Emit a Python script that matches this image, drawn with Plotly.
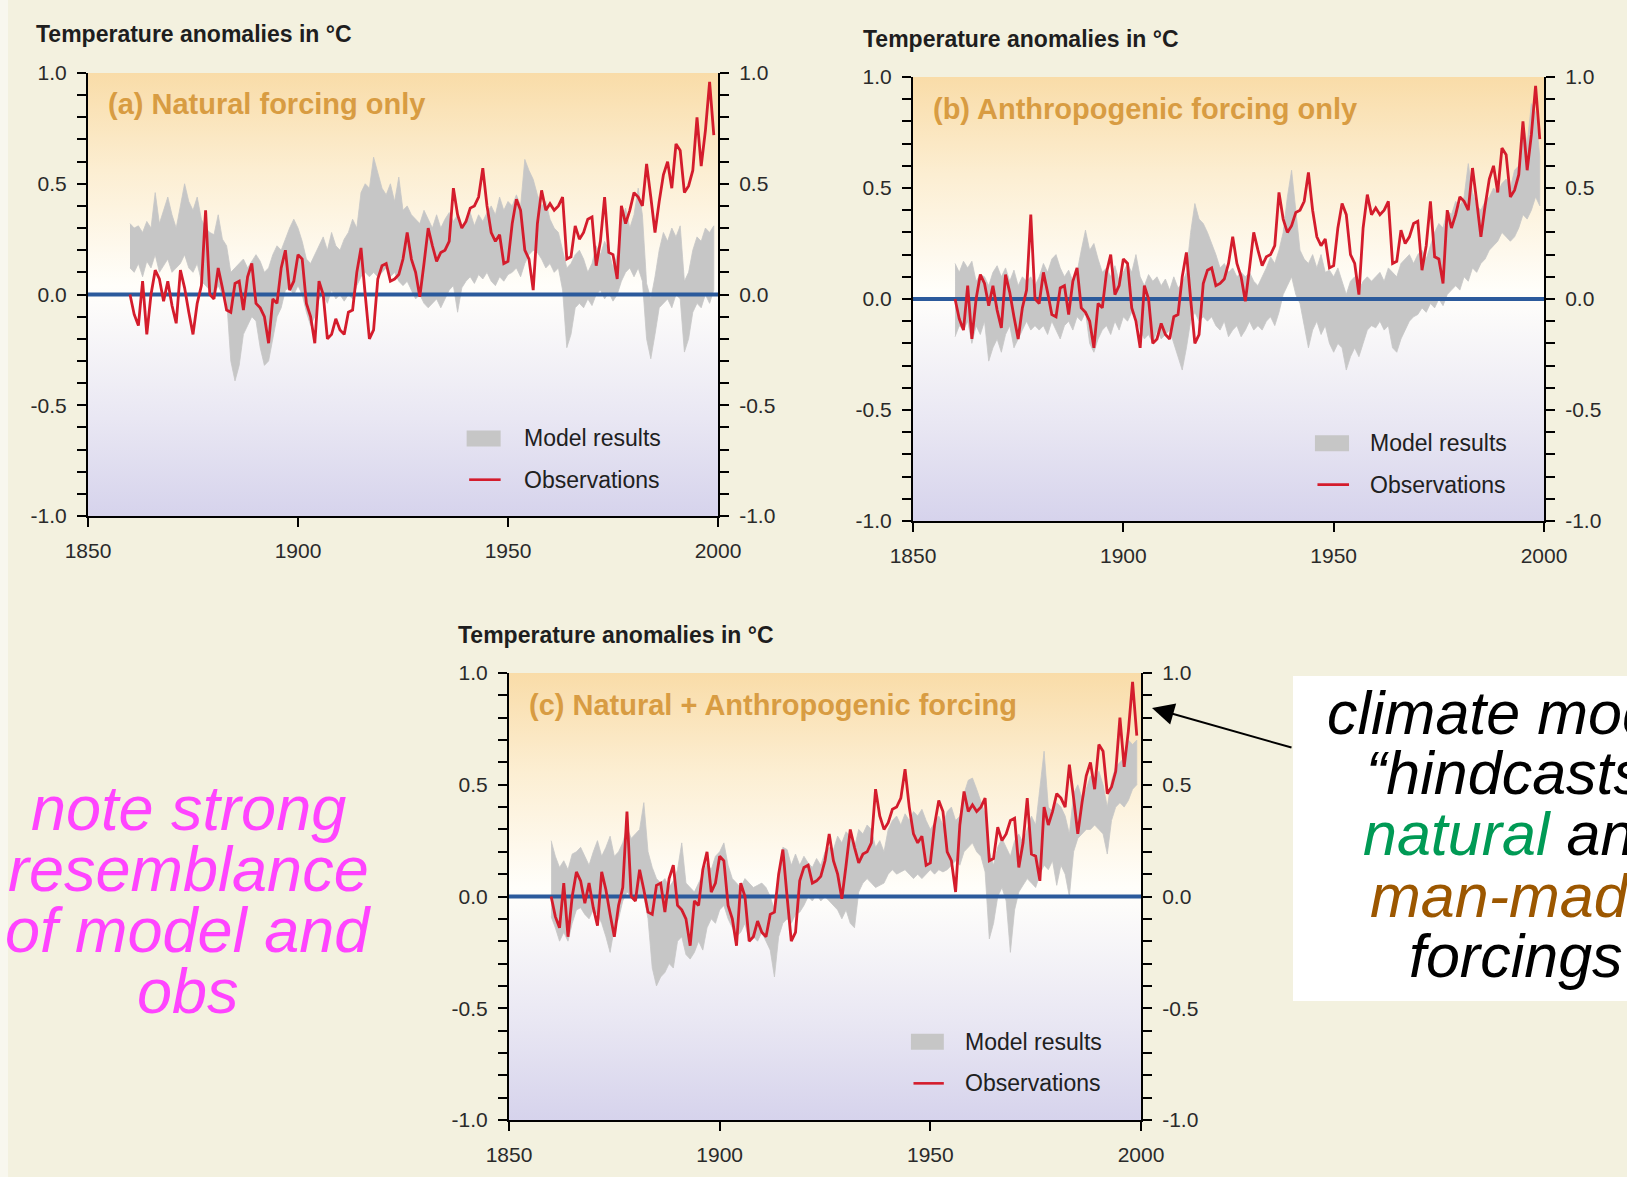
import plotly.graph_objects as go

W, H = 1627, 1177

# ---------------- data ----------------
YEARS = list(range(1860, 2000))

OBSERVATIONS = [
    0.00, -0.09, -0.14, 0.06, -0.18, 0.00, 0.11, 0.07, -0.03, 0.06,
    -0.05, -0.13, 0.11, 0.03, -0.08, -0.18, -0.04, 0.04, 0.38, 0.00,
    -0.02, 0.12, 0.03, -0.07, -0.08, 0.05, 0.06, -0.07, 0.08, 0.14,
    -0.04, -0.06, -0.10, -0.22, -0.02, -0.04, 0.12, 0.20, 0.02, 0.06,
    0.18, 0.16, -0.04, -0.10, -0.22, 0.06, 0.00, -0.20, -0.18, -0.11,
    -0.16, -0.18, -0.08, -0.07, 0.10, 0.21, 0.00, -0.20, -0.16, 0.07,
    0.13, 0.14, 0.06, 0.07, 0.09, 0.16, 0.28, 0.16, 0.10, -0.01,
    0.14, 0.30, 0.22, 0.15, 0.19, 0.20, 0.24, 0.48, 0.36, 0.30,
    0.33, 0.39, 0.40, 0.44, 0.57, 0.40, 0.28, 0.24, 0.27, 0.14,
    0.15, 0.32, 0.43, 0.38, 0.20, 0.16, 0.02, 0.32, 0.47, 0.38,
    0.41, 0.38, 0.40, 0.44, 0.16, 0.17, 0.31, 0.25, 0.28, 0.34,
    0.35, 0.13, 0.24, 0.44, 0.19, 0.18, 0.07, 0.40, 0.32, 0.38,
    0.46, 0.44, 0.40, 0.59, 0.44, 0.28, 0.42, 0.54, 0.60, 0.48,
    0.68, 0.65, 0.46, 0.49, 0.56, 0.80, 0.58, 0.74, 0.96, 0.72,
]

# (a) natural forcing only
UPPER_A = [
    0.32, 0.30, 0.31, 0.28, 0.33, 0.30, 0.46, 0.32, 0.38, 0.44,
    0.36, 0.30, 0.40, 0.50, 0.42, 0.38, 0.44, 0.34, 0.30, 0.28,
    0.27, 0.36, 0.25, 0.22, 0.10, 0.12, 0.14, 0.16, 0.12, 0.15,
    0.18, 0.15, 0.10, 0.12, 0.18, 0.22, 0.20, 0.25, 0.30, 0.34,
    0.30, 0.24, 0.16, 0.14, 0.18, 0.22, 0.26, 0.20, 0.28, 0.22,
    0.20, 0.25, 0.28, 0.34, 0.30, 0.46, 0.50, 0.48, 0.62, 0.55,
    0.48, 0.45, 0.50, 0.42, 0.53, 0.38, 0.40, 0.36, 0.34, 0.32,
    0.38, 0.34, 0.30, 0.36, 0.30, 0.34, 0.37, 0.33, 0.36, 0.30,
    0.34, 0.37, 0.31, 0.36, 0.33, 0.37, 0.40, 0.36, 0.44, 0.38,
    0.42, 0.40, 0.45, 0.40, 0.61, 0.56, 0.52, 0.45, 0.40, 0.42,
    0.34, 0.30, 0.28, 0.20, 0.12, 0.14, 0.18, 0.20, 0.16, 0.10,
    0.14, 0.22, 0.18, 0.24, 0.20, 0.12, 0.18, 0.34, 0.39, 0.30,
    0.36, 0.48, 0.36, 0.05, -0.02, 0.08, 0.20, 0.28, 0.24, 0.30,
    0.26, 0.31, 0.06, 0.10, 0.20, 0.26, 0.24, 0.30, 0.28, 0.31,
]
LOWER_A = [
    0.12, 0.10, 0.14, 0.08, 0.15, 0.12, 0.18, 0.10, 0.13, 0.16,
    0.10, 0.12, 0.14, 0.18, 0.12, 0.10, 0.14, 0.06, 0.04, 0.02,
    0.00, 0.04, 0.00, -0.02, -0.30, -0.39, -0.32, -0.18, -0.14, -0.10,
    -0.12, -0.24, -0.32, -0.30, -0.20, -0.10, -0.06, 0.02, 0.03, 0.00,
    0.04, 0.00, -0.08, -0.14, -0.10, -0.02, 0.00, -0.04, 0.02, -0.02,
    0.00, -0.03, 0.00, -0.02, 0.04, 0.08, 0.10, 0.08, 0.10, 0.08,
    0.10, 0.12, 0.08, 0.10, 0.06, 0.04, 0.06, 0.02, -0.02, 0.00,
    -0.04, -0.06, -0.04, -0.02, -0.06, -0.02, 0.02, 0.04, -0.08, 0.03,
    0.06, 0.08, 0.05, 0.09, 0.07, 0.10, 0.06, 0.04, 0.08, 0.06,
    0.09, 0.10, 0.12, 0.08, 0.14, 0.18, 0.20, 0.19, 0.16, 0.12,
    0.14, 0.10, 0.12, 0.02, -0.24, -0.18, -0.06, -0.04, -0.06, -0.02,
    -0.05, 0.00, 0.02, -0.02, 0.01, -0.03, 0.00, 0.06, 0.10, 0.12,
    0.08, 0.12, 0.06, -0.20, -0.29, -0.18, -0.06, -0.04, -0.02, -0.06,
    0.00, -0.02, -0.26, -0.20, -0.08, -0.04, -0.06, 0.00, -0.04, 0.02,
]

# (b) anthropogenic forcing only
UPPER_B = [
    0.16, 0.12, 0.17, 0.14, 0.17, 0.08, 0.11, 0.10, 0.06, 0.12,
    0.15, 0.10, 0.14, 0.08, 0.13, 0.06, 0.10, 0.08, 0.10, 0.06,
    0.10, 0.16, 0.12, 0.18, 0.20, 0.14, 0.10, 0.13, 0.08, 0.12,
    0.22, 0.31, 0.22, 0.25, 0.18, 0.12, 0.14, 0.10, 0.15, 0.08,
    0.12, 0.16, 0.12, 0.20, 0.10, 0.06, 0.11, 0.08, 0.10, 0.06,
    0.09, 0.04, 0.10, 0.05, 0.07, 0.12, 0.30, 0.43, 0.36, 0.34,
    0.30, 0.25, 0.20, 0.14, 0.16, 0.12, 0.14, 0.10, 0.12, 0.10,
    0.12, 0.08, 0.06, 0.10, 0.14, 0.19, 0.16, 0.22, 0.30, 0.46,
    0.58, 0.40, 0.22, 0.18, 0.16, 0.20, 0.14, 0.20, 0.12, 0.13,
    0.10, 0.14, 0.08, 0.02, 0.08, 0.10, 0.04, 0.08, 0.10, 0.08,
    0.10, 0.12, 0.08, 0.14, 0.12, 0.10, 0.16, 0.18, 0.20, 0.16,
    0.20, 0.22, 0.18, 0.24, 0.30, 0.34, 0.32, 0.40, 0.38, 0.44,
    0.42, 0.46, 0.61, 0.48, 0.42, 0.40, 0.44, 0.46, 0.50, 0.48,
    0.52, 0.54, 0.50, 0.58, 0.60, 0.79, 0.70, 0.88, 0.84, 0.64,
]
LOWER_B = [
    -0.17, -0.12, -0.14, -0.10, -0.20, -0.12, -0.16, -0.10, -0.28, -0.22,
    -0.18, -0.24, -0.16, -0.12, -0.22, -0.18, -0.14, -0.10, -0.14, -0.12,
    -0.14, -0.12, -0.16, -0.10, -0.14, -0.18, -0.12, -0.10, -0.14, -0.08,
    -0.10, -0.06, -0.20, -0.24, -0.18, -0.14, -0.12, -0.16, -0.10, -0.14,
    -0.08, -0.10, -0.06, -0.08, -0.14, -0.18, -0.16, -0.20, -0.14, -0.18,
    -0.16, -0.14, -0.20, -0.26, -0.32, -0.22, -0.10, -0.06, -0.10, -0.08,
    -0.10, -0.08, -0.12, -0.14, -0.10, -0.17, -0.14, -0.12, -0.17, -0.14,
    -0.10, -0.14, -0.12, -0.14, -0.10, -0.08, -0.12, -0.06, 0.02, 0.06,
    0.10, 0.02, -0.02, -0.12, -0.22, -0.14, -0.10, -0.16, -0.12, -0.20,
    -0.24, -0.20, -0.22, -0.32, -0.26, -0.22, -0.26, -0.20, -0.14, -0.12,
    -0.13, -0.10, -0.14, -0.12, -0.22, -0.24, -0.18, -0.14, -0.10, -0.08,
    -0.07, -0.04, -0.06, -0.02, -0.04, 0.00, -0.03, 0.02, 0.04, 0.06,
    0.04, 0.10, 0.08, 0.14, 0.12, 0.16, 0.18, 0.22, 0.24, 0.26,
    0.30, 0.28, 0.26, 0.28, 0.32, 0.38, 0.36, 0.40, 0.46, 0.42,
]

# (c) natural + anthropogenic forcing
UPPER_C = [
    0.25, 0.18, 0.13, 0.16, 0.12, 0.19, 0.20, 0.22, 0.18, 0.14,
    0.20, 0.25, 0.18, 0.22, 0.27, 0.18, 0.20, 0.24, 0.31, 0.26,
    0.28, 0.30, 0.42, 0.20, 0.13, 0.08, 0.06, 0.08, 0.04, 0.07,
    0.12, 0.24, 0.06, 0.04, 0.02, 0.06, 0.10, 0.15, 0.12, 0.18,
    0.20, 0.24, 0.14, 0.08, 0.06, 0.04, 0.08, 0.06, 0.04, 0.05,
    0.06, 0.04, 0.00, -0.06, 0.10, 0.22, 0.21, 0.14, 0.19, 0.14,
    0.18, 0.15, 0.13, 0.17, 0.14, 0.20, 0.22, 0.21, 0.27, 0.24,
    0.29, 0.27, 0.22, 0.30, 0.28, 0.32, 0.30, 0.22, 0.25, 0.20,
    0.30, 0.34, 0.36, 0.32, 0.37, 0.34, 0.38, 0.36, 0.39, 0.34,
    0.30, 0.33, 0.36, 0.32, 0.38, 0.40, 0.34, 0.36, 0.46, 0.52,
    0.53, 0.48, 0.42, 0.37, 0.20, 0.14, 0.22, 0.26, 0.22, 0.18,
    0.25, 0.28, 0.24, 0.30, 0.36, 0.32, 0.48, 0.65, 0.40, 0.38,
    0.42, 0.40, 0.36, 0.28, 0.46, 0.50, 0.44, 0.48, 0.54, 0.52,
    0.56, 0.50, 0.40, 0.52, 0.58, 0.60, 0.62, 0.70, 0.68, 0.70,
]
LOWER_C = [
    -0.09, -0.14, -0.20, -0.16, -0.20, -0.12, -0.06, -0.05, -0.08, -0.10,
    -0.06, -0.08, -0.12, -0.18, -0.25, -0.14, -0.10, -0.02, 0.02, 0.00,
    -0.02, 0.00, 0.00, -0.10, -0.32, -0.40, -0.36, -0.34, -0.30, -0.32,
    -0.20, -0.18, -0.26, -0.28, -0.25, -0.20, -0.24, -0.14, -0.10, -0.12,
    -0.06, -0.04, -0.10, -0.14, -0.18, -0.16, -0.12, -0.20, -0.18, -0.20,
    -0.16, -0.20, -0.24, -0.36, -0.18, -0.12, -0.10, -0.12, -0.08, -0.07,
    -0.04, 0.00, -0.02, 0.01, -0.02, 0.00, -0.02, -0.04, -0.06, -0.10,
    -0.06, -0.12, -0.14, 0.02, 0.06, 0.08, 0.06, 0.04, 0.05, 0.06,
    0.10, 0.12, 0.10, 0.11, 0.12, 0.10, 0.08, 0.10, 0.08, 0.10,
    0.12, 0.10, 0.12, 0.11, 0.12, 0.14, 0.16, 0.14, 0.20, 0.22,
    0.24, 0.20, 0.18, 0.11, -0.19, -0.12, 0.00, 0.04, -0.02, -0.25,
    -0.06, 0.02, 0.05, 0.08, 0.06, 0.04, 0.10, 0.14, 0.12, 0.16,
    0.05, 0.14, 0.10, 0.00, 0.20, 0.26, 0.28, 0.30, 0.30, 0.32,
    0.30, 0.28, 0.19, 0.34, 0.40, 0.42, 0.40, 0.43, 0.48, 0.50,
]

X_RANGE = [1850, 2000]
Y_RANGE = [-1.0, 1.0]
X_TICKS = [1850, 1900, 1950, 2000]
Y_TICKS = [-1.0, -0.5, 0.0, 0.5, 1.0]
Y_TICKTEXT = ["-1.0", "-0.5", "0.0", "0.5", "1.0"]

AXIS_TITLE = "Temperature anomalies in °C"
PANEL_LABELS = ["(a) Natural forcing only",
                "(b) Anthropogenic forcing only",
                "(c) Natural + Anthropogenic forcing"]
LEGEND_LABELS = ["Model results", "Observations"]
LEFT_NOTE = ["note strong", "resemblance", "of model and", "obs"]
RIGHT_NOTE = ["climate model", "“hindcasts”",
              '<span style="color:#009A55">natural</span> and',
              '<span style="color:#9C5700">man-made</span>',
              "forcings"]

# ---------------- style / layout ----------------
FONT = "Liberation Sans, Arial, Helvetica, sans-serif"
BG = "#F3F1DF"
GRAY = "#C6C6C6"
RED = "#D41C2C"
BLUE = "#2B5A9C"
GOLD = "#D89C42"

# pixel boxes of the three plot areas: (left, right, top, bottom)
PANELS = [
    dict(box=(88, 718, 73, 516), title=(34, 34), leg_x=(0.601, 0.655, 0.689)),
    dict(box=(913, 1544, 77, 521), title=(861, 39), leg_x=(0.637, 0.691, 0.721)),
    dict(box=(509, 1141, 673, 1120), title=(456, 635), leg_x=(0.636, 0.688, 0.718)),
]
BANDS = [(UPPER_A, LOWER_A), (UPPER_B, LOWER_B), (UPPER_C, LOWER_C)]


def px(x, y):
    return x / W, 1 - y / H


GRADIENT = [[0.0, "#D6D3EC"], [0.22, "#E9E7F3"], [0.48, "#FDFCFA"],
            [0.52, "#FFFEFA"], [0.78, "#FCEED2"], [1.0, "#F9DCA8"]]

fig = go.Figure()
layout = dict(
    width=W, height=H, margin=dict(l=0, r=0, t=0, b=0, pad=0, autoexpand=False),
    paper_bgcolor=BG, plot_bgcolor="rgba(0,0,0,0)", showlegend=False,
    font=dict(family=FONT, color="#222222"),
)
shapes = []
annotations = []

tickfont = dict(family=FONT, size=21, color="#2A2A2A")

for i, (p, (up, lo), label) in enumerate(zip(PANELS, BANDS, PANEL_LABELS)):
    n = i + 1
    xa = "x" if n == 1 else f"x{n}"
    ya = "y" if n == 1 else f"y{n}"
    yr = f"y{n + 3}"
    l, r, t, b = p["box"]
    layout["xaxis" if n == 1 else f"xaxis{n}"] = dict(
        domain=[l / W, r / W], range=X_RANGE, anchor=ya,
        tickmode="array", tickvals=X_TICKS, ticks="outside", ticklen=9,
        tickwidth=2, tickcolor="black", showline=True, linecolor="black",
        linewidth=2, showgrid=False, zeroline=False, tickfont=tickfont,
        ticklabelstandoff=6, fixedrange=True, automargin=False,
    )
    common_y = dict(
        range=Y_RANGE, tickmode="array", tickvals=Y_TICKS, ticktext=Y_TICKTEXT,
        ticks="outside", ticklen=9, tickwidth=2, tickcolor="black",
        minor=dict(dtick=0.1, tick0=0, ticks="outside", ticklen=9,
                   tickwidth=2, tickcolor="black"),
        showline=True, linecolor="black", linewidth=2, showgrid=False,
        zeroline=False, tickfont=tickfont, ticklabelstandoff=6,
        fixedrange=True, automargin=False,
    )
    layout["yaxis" if n == 1 else f"yaxis{n}"] = dict(
        domain=[1 - b / H, 1 - t / H], anchor=xa, side="left", **common_y)
    layout[f"yaxis{n + 3}"] = dict(
        overlaying=ya, anchor=xa, side="right", **common_y)

    # gradient background of plot area
    fig.add_trace(go.Scatter(
        x=[X_RANGE[0], X_RANGE[1], X_RANGE[1], X_RANGE[0]],
        y=[Y_RANGE[0], Y_RANGE[0], Y_RANGE[1], Y_RANGE[1]],
        fill="toself", mode="none", hoverinfo="skip",
        fillgradient=dict(type="vertical", colorscale=GRADIENT,
                          start=Y_RANGE[0], stop=Y_RANGE[1]),
        xaxis=xa, yaxis=ya,
    ))
    # model results band
    fig.add_trace(go.Scatter(
        x=YEARS + YEARS[::-1], y=up + lo[::-1], fill="toself", mode="lines",
        line=dict(width=0.8, color=GRAY), fillcolor=GRAY, hoverinfo="skip",
        name=LEGEND_LABELS[0], xaxis=xa, yaxis=ya,
    ))
    # zero reference line
    fig.add_trace(go.Scatter(
        x=X_RANGE, y=[0, 0], mode="lines", line=dict(color=BLUE, width=4),
        hoverinfo="skip", xaxis=xa, yaxis=yr,
    ))
    # observations
    fig.add_trace(go.Scatter(
        x=YEARS, y=OBSERVATIONS, mode="lines", line=dict(color=RED, width=2.8),
        name=LEGEND_LABELS[1], xaxis=xa, yaxis=yr,
    ))

    # title above the axis
    tx, ty = px(*p["title"])
    annotations.append(dict(
        x=tx, y=ty, xref="paper", yref="paper", xanchor="left", yanchor="middle",
        text=f"<b>{AXIS_TITLE}</b>", showarrow=False,
        font=dict(family=FONT, size=23, color="#1E1E1E")))
    # panel label
    annotations.append(dict(
        x=0.029, y=0.929, xref=f"{xa} domain", yref=f"{ya} domain",
        xanchor="left", yanchor="middle", text=f"<b>{label}</b>",
        showarrow=False, font=dict(family=FONT, size=29, color=GOLD)))
    # legend
    sx0, sx1, tx0 = p["leg_x"]
    shapes.append(dict(type="rect", xref=f"{xa} domain", yref=f"{ya} domain",
                       x0=sx0, x1=sx1, y0=0.157, y1=0.193,
                       fillcolor=GRAY, line=dict(width=0), layer="above"))
    shapes.append(dict(type="line", xref=f"{xa} domain", yref=f"{ya} domain",
                       x0=sx0 + 0.004, x1=sx1, y0=0.082, y1=0.082,
                       line=dict(color=RED, width=2.6), layer="above"))
    for txt, yy in zip(LEGEND_LABELS, [0.175, 0.082]):
        annotations.append(dict(
            x=tx0, y=yy, xref=f"{xa} domain", yref=f"{ya} domain",
            xanchor="left", yanchor="middle", text=txt, showarrow=False,
            font=dict(family=FONT, size=23, color="#202020")))

# faint light strip at the left edge
shapes.append(dict(type="rect", xref="paper", yref="paper", x0=0, x1=8 / W,
                   y0=0, y1=1, fillcolor="#F8F7EE", line=dict(width=0),
                   layer="below"))

# white callout box on the right
bx0, by0 = px(1293, 1001)
bx1, by1 = px(W + 40, 676)
shapes.append(dict(type="rect", xref="paper", yref="paper", x0=bx0, x1=bx1,
                   y0=by0, y1=by1, fillcolor="white", line=dict(width=0),
                   layer="above"))

# left magenta note
for txt, yc in zip(LEFT_NOTE, [808, 869, 930, 991]):
    ax_, ay_ = px(188, yc)
    annotations.append(dict(
        x=ax_, y=ay_, xref="paper", yref="paper", xanchor="center",
        yanchor="middle", text=f"<i>{txt}</i>", showarrow=False,
        font=dict(family=FONT, size=63, color="#FF44FF")))

# right black note
for txt, yc in zip(RIGHT_NOTE, [713, 773, 834, 896, 956]):
    ax_, ay_ = px(1516, yc)
    annotations.append(dict(
        x=ax_, y=ay_, xref="paper", yref="paper", xanchor="center",
        yanchor="middle", text=f"<i>{txt}</i>", showarrow=False,
        font=dict(family=FONT, size=61, color="black")))

# arrow
hx, hy = px(1152, 708)
annotations.append(dict(
    x=hx, y=hy, xref="paper", yref="paper", ax=141, ay=40, text="",
    showarrow=True, arrowhead=2, arrowsize=2.2, arrowwidth=2,
    arrowcolor="black", standoff=0))

layout["shapes"] = shapes
layout["annotations"] = annotations
fig.update_layout(**layout)

fig.write_html("out.html",
               config={"displayModeBar": False},
               post_script="document.body.style.margin='0';"
                           "document.body.style.overflow='hidden';")
